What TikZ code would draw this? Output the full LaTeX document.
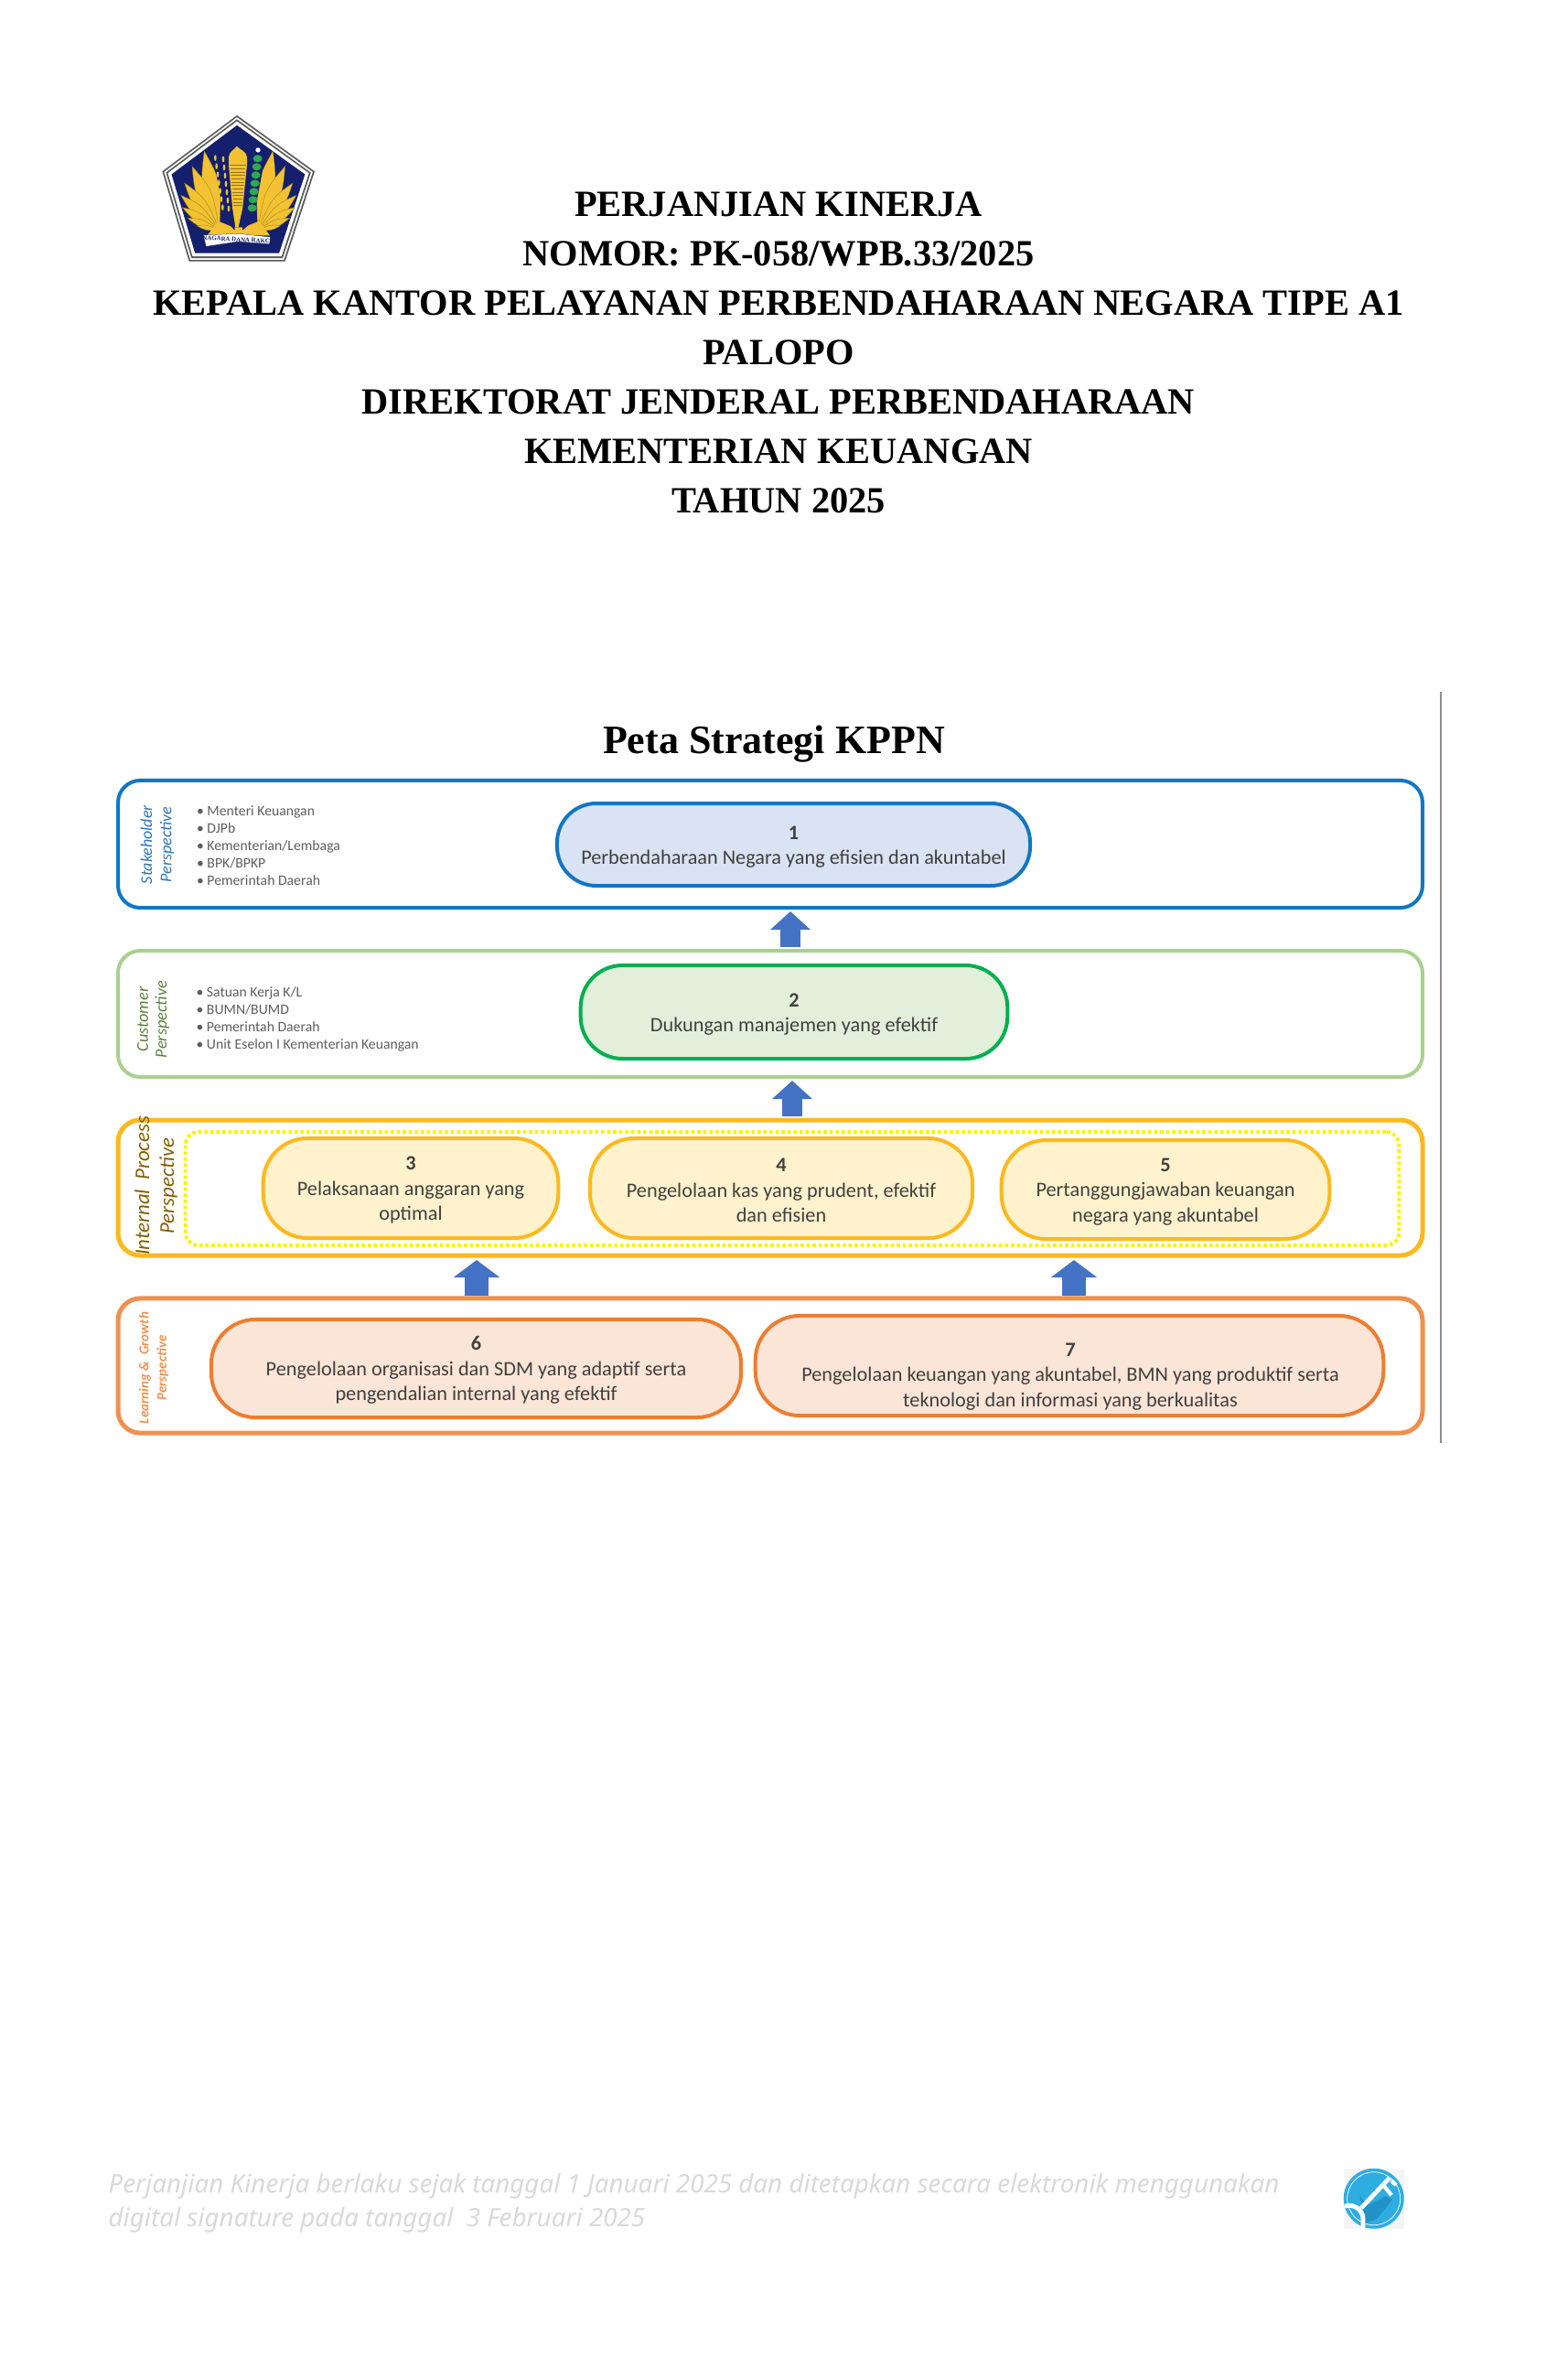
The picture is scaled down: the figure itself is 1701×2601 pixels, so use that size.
\documentclass[tikz,border=0pt]{standalone}
\usepackage{fontspec}
\setmainfont{Liberation Serif}
\newfontfamily\boxfont{Carlito}
\newfontfamily\footfont{Noto Sans}
\usetikzlibrary{calc,arrows.meta}

\definecolor{blueline}{HTML}{1277C4}
\definecolor{bluefill}{HTML}{DAE3F3}
\definecolor{bluename}{HTML}{2E75B6}
\definecolor{greenpale}{HTML}{A9D18E}
\definecolor{greenline}{HTML}{00B050}
\definecolor{greenfill}{HTML}{E2EFDA}
\definecolor{greenname}{HTML}{5A7F3A}
\definecolor{amberline}{HTML}{FFB81E}
\definecolor{amberfill}{HTML}{FFF2CC}
\definecolor{ambername}{HTML}{7F6000}
\definecolor{orangeline}{HTML}{ED7D31}
\definecolor{orangefill}{HTML}{FBE5D6}
\definecolor{arrowblue}{HTML}{4472C4}
\definecolor{boxtext}{HTML}{404040}
\definecolor{crestnavy}{HTML}{14206E}
\definecolor{crestgold}{HTML}{F2C233}
\definecolor{crestgreen}{HTML}{2FA84F}
\definecolor{sealblue}{HTML}{2EADE3}
\definecolor{sealdark}{HTML}{2193C6}

\newcommand{\boxnum}[1]{\rule{0pt}{6.8pt}\textbf{#1}}

\tikzset{
  outerbox/.style={draw, rounded corners=8.5pt, line width=1.4pt, inner sep=0pt, minimum width=499.1pt},
  stratbox/.style={draw, line width=1.4pt, inner sep=0pt, align=center, text=boxtext,
    font=\boxfont\fontsize{7.8}{9.6}\selectfont},
  listtext/.style={align=left, anchor=west, inner sep=0pt, text=boxtext!85,
    font=\boxfont\fontsize{5.5}{6.65}\selectfont},
  persptext/.style={rotate=90, align=center, inner sep=0pt},
  blockarrow/.style={-{Triangle[length=7pt,width=15pt]}, line width=7.7pt, draw=arrowblue,
    shorten <=0.7pt, shorten >=0.7pt},
  blockarrowwide/.style={-{Triangle[length=6.7pt,width=17.5pt]}, line width=8.8pt, draw=arrowblue,
    shorten >=0.9pt},
}

\begin{document}
\begin{tikzpicture}[x=0.35pt,y=-0.35pt]
\useasboundingbox (0,0) rectangle (1701,2601);

% crest
\begin{scope}[shift={(160,110)},x=0.35pt/3,y=-0.35pt/3]
\foreach \s/\layercol in {1/black!65,0.975/white,0.95/black!65,0.925/white,0.875/crestnavy}
  \fill[\layercol,shift={(297,310)},scale=\s] (0,-262) -- (255,-78) -- (158,217) -- (-157,217) -- (-245,-78) -- cycle;
\coordinate (baseL) at (240,425);
\coordinate (baseR) at (365,425);
\foreach \tipx/\tipy in {190/165,150/215,125/270,113/310,118/350,135/385,165/410}{
  \fill[crestgold,draw=crestgold!60!black,line width=0.1pt] (baseL) .. controls ($(baseL)!.6!13:(\tipx,\tipy)$) .. (\tipx,\tipy) .. controls ($(baseL)!.6!-13:(\tipx,\tipy)$) .. (baseL);
  \fill[crestgold,draw=crestgold!60!black,line width=0.1pt] (baseR) .. controls ($(baseR)!.6!13:(605-\tipx,\tipy)$) .. (605-\tipx,\tipy) .. controls ($(baseR)!.6!-13:(605-\tipx,\tipy)$) .. (baseR);
}
\fill[crestgold] (200,442) -- (235,395) -- (285,415) -- (320,415) -- (370,395) -- (405,442) -- cycle;
\fill[crestnavy] (215,170) -- (283,170) -- (290,425) -- (260,395) -- cycle;
\fill[crestnavy] (322,170) -- (392,170) -- (350,395) -- (315,425) -- cycle;
\fill[crestgold] (270,185) .. controls (272,165) and (290,160) .. (297,150) .. controls (305,160) and (328,165) .. (330,185) -- (330,210) -- (316,350) -- (302,415) -- (292,415) -- (282,350) -- (270,210) -- cycle;
\foreach \k in {0,...,12}
  \draw[crestgold!60!black,line width=0.15pt] (274+\k,212+\k*11) -- (326-\k,212+\k*11);
\foreach \k in {0,...,6}{
  \fill[crestgold] (226+\k*4,188+\k*27) ellipse [x radius=4,y radius=10];
  \fill[crestgold] (252+\k*3,192+\k*27) ellipse [x radius=4,y radius=10];
}
\foreach \k in {0,...,6}{
  \fill[crestgreen] (365-\k*3,190+\k*27) ellipse [x radius=15,y radius=12];
}
\fill[white] (366,162) circle (8);
\fill[white,draw=crestnavy,line width=0.1pt] (187,441) -- (300,436) -- (406,447) -- (404,470) -- (300,462) -- (196,478) -- cycle;
\node[inner sep=0pt,rotate=-3,font=\bfseries\fontsize{2.4}{3}\selectfont,text=crestnavy] (ribbon) at (302,456) {NAGARA DANA RAKCA};
\end{scope}

% heading
\node[align=center, inner sep=0pt, font=\bfseries\fontsize{14.15}{18.9}\selectfont] (heading) at (851,385) {PERJANJIAN KINERJA\\NOMOR: PK-058/WPB.33/2025\\KEPALA KANTOR PELAYANAN PERBENDAHARAAN NEGARA TIPE A1\\PALOPO\\DIREKTORAT JENDERAL PERBENDAHARAAN\\KEMENTERIAN KEUANGAN\\TAHUN 2025};
\node[inner sep=0pt, font=\bfseries\fontsize{15.4}{18}\selectfont] (chartTitle) at (846,813) {Peta Strategi KPPN};

% picture edge
\coordinate (edgeTop) at (1575,756);
\coordinate (edgeEnd) at (1575,1577);
\draw[black!45,line width=0.7pt] (edgeTop) -- (edgeEnd);

% perspectives
\node[outerbox, draw=blueline, minimum height=48.7pt] (stakeholder) at (842,922.5) {};
\node[outerbox, draw=greenpale, minimum height=48.3pt] (customer) at (842,1108) {};
\node[outerbox, draw=amberline, line width=1.75pt, minimum height=51.8pt] (internal) at (842,1298) {};
\node[outerbox, draw=orangeline!85, line width=1.75pt, minimum height=51.5pt] (learning) at (842,1492.5) {};
\node[draw=yellow, line width=1.4pt, rounded corners=5pt, dash pattern=on 1.3pt off 1pt, minimum width=464.3pt, minimum height=43.4pt, inner sep=0pt] (dotted) at (866,1299) {};

% perspective names
\node[persptext, text=bluename, font=\boxfont\itshape\fontsize{6.3}{7.4}\selectfont] (nameA) at (172,923) {Stakeholder\\Perspective};
\node[persptext, text=greenname, font=\boxfont\itshape\fontsize{6.4}{7.1}\selectfont] (nameB) at (167.5,1114) {Customer\\Perspective};
\node[persptext, text=ambername, font=\boxfont\itshape\fontsize{8}{9.5}\selectfont] (nameC) at (170.5,1296) {Internal~~Process\\Perspective};
\node[persptext, text=orangeline!85, font=\boxfont\bfseries\itshape\fontsize{5.25}{6.8}\selectfont] (nameD) at (168,1495) {Learning \&~~Growth\\Perspective};

% lists
\node[listtext] (listA) at (214.5,924) {\textbullet~Menteri Keuangan\\\textbullet~DJPb\\\textbullet~Kementerian/Lembaga\\\textbullet~BPK/BPKP\\\textbullet~Pemerintah Daerah};
\node[listtext] (listB) at (214,1114) {\textbullet~Satuan Kerja K/L\\\textbullet~BUMN/BUMD\\\textbullet~Pemerintah Daerah\\\textbullet~Unit Eselon I Kementerian Keuangan};

% objectives
\node[stratbox, draw=blueline, fill=bluefill, rounded corners=15pt, minimum width=181pt, minimum height=31.5pt] (box1) at (867.5,923) {\boxnum{1}\\Perbendaharaan Negara yang efisien dan akuntabel};
\node[stratbox, draw=greenline, fill=greenfill, rounded corners=16pt, minimum width=163.3pt, minimum height=35.7pt] (box2) at (868,1106) {\boxnum{2}\\Dukungan manajemen yang efektif};
\node[stratbox, draw=amberline, fill=amberfill, rounded corners=17pt, minimum width=112.9pt, minimum height=38.2pt] (box3) at (449,1298.5) {\boxnum{3}\\Pelaksanaan anggaran yang\\optimal};
\node[stratbox, draw=amberline, fill=amberfill, rounded corners=17pt, minimum width=146.3pt, minimum height=38.2pt] (box4) at (854,1298.5) {\boxnum{4}\\Pengelolaan kas yang prudent, efektif\\dan efisien};
\node[stratbox, draw=amberline, fill=amberfill, rounded corners=17pt, minimum width=125.5pt, minimum height=37.8pt] (box5) at (1274,1300) {\boxnum{5}\\Pertanggungjawaban keuangan\\negara yang akuntabel};
\node[stratbox, draw=orangeline, fill=orangefill, rounded corners=17pt, minimum width=202.7pt, minimum height=37.5pt] (box6) at (520.5,1495.5) {\boxnum{6}\\Pengelolaan organisasi dan SDM yang adaptif serta\\pengendalian internal yang efektif};
\node[stratbox, draw=orangeline, fill=orangefill, rounded corners=17pt, minimum width=240.3pt, minimum height=38.2pt] (box7) at (1169,1492.5) {};
\node[stratbox, draw=none] (text7) at (1170,1502) {\boxnum{7}\\Pengelolaan keuangan yang akuntabel, BMN yang produktif serta\\teknologi dan informasi yang berkualitas};

% arrows
\coordinate (upA) at (864,0);
\coordinate (upB) at (866,0);
\coordinate (upC) at (521,0);
\coordinate (upD) at (1174,0);
\draw[blockarrow] (upA |- customer.north) -- (upA |- stakeholder.south);
\draw[blockarrow] (upB |- internal.north) -- (upB |- customer.south);
\draw[blockarrowwide] (upC |- learning.north) -- (upC |- internal.south);
\draw[blockarrowwide] (upD |- learning.north) -- (upD |- internal.south);

% footer
\node[align=left, anchor=west, inner sep=0pt, text=black!15, font=\footfont\itshape\fontsize{9.72}{13}\selectfont] (footer) at (118,2407.5) {Perjanjian Kinerja berlaku sejak tanggal 1 Januari 2025 dan ditetapkan secara elektronik menggunakan\\digital signature pada tanggal~~3 Februari 2025};

% seal
\coordinate (sealC) at (1501.7,2402.7);
\fill[black!4] (1469,2370) rectangle (1535,2436);
\fill[sealblue] (sealC) circle (33);
\draw[white,line width=0.25pt] (sealC) circle (29);
\fill[sealdark] (1486,2400) -- (1495,2410) -- (1515,2400) -- (1522,2404) -- (1505,2425) -- (1492,2430) -- (1491,2418) -- cycle;
\draw[white,line width=1.7pt] (1519,2380) -- (1488,2413);
\draw[white,line width=1.5pt] (1513,2389) -- (1521,2399);
\draw[white,line width=1.5pt] (1521,2383) -- (1526,2388);
\draw[white,line width=1.7pt] (1470,2411) .. controls (1480,2408) and (1490,2415) .. (1490,2425) .. controls (1490,2429) .. (1490,2436);
\end{tikzpicture}
\end{document}
